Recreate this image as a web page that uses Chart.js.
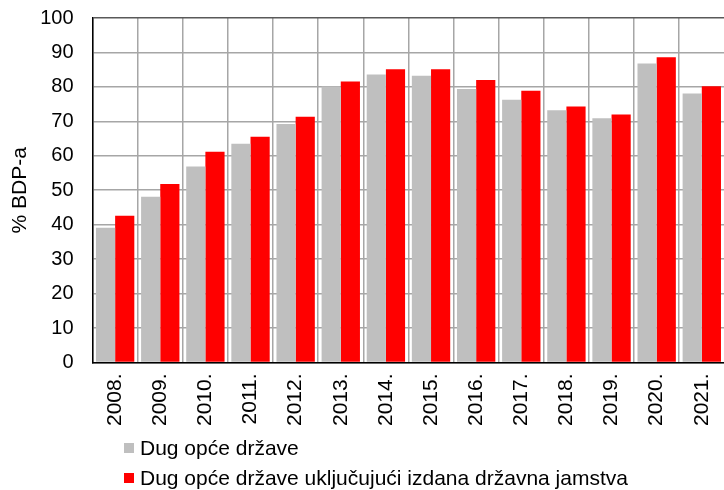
<!DOCTYPE html>
<html>
<head>
<meta charset="utf-8">
<script src="https://cdn.jsdelivr.net/npm/chart.js@4.4.0/dist/chart.umd.min.js"></script>
<style>
  html, body { margin: 0; padding: 0; background: #fff; overflow: hidden; }
  body { width: 724px; height: 490px; position: relative; font-family: "Liberation Sans", Arial, sans-serif; }
  #wrap { position: absolute; left: 0; top: -13px; width: 738px; height: 450px; }
  #legend { position: absolute; left: 124px; top: 433px; font-size: 21px; color: #000; }
  .item { display: flex; align-items: center; height: 30px; }
  .box { width: 10px; height: 10px; margin-right: 6px; }
</style>
</head>
<body>
<div id="wrap"><canvas id="myChart"></canvas></div>
<div id="legend"></div>
<script>
const years = ['2008.', '2009.', '2010.', '2011.', '2012.', '2013.', '2014.',
               '2015.', '2016.', '2017.', '2018.', '2019.', '2020.', '2021.'];
const debt = [39.1, 48.1, 56.9, 63.5, 69.2, 80.1, 83.6, 83.2, 79.4, 76.3, 73.2, 70.9, 86.8, 78.1];
const debtWithGuarantees = [42.6, 51.8, 61.2, 65.5, 71.3, 81.6, 85.1, 85.1, 82.0, 78.9, 74.3, 72.0, 88.6, 80.2];
const seriesNames = ['Dug opće države', 'Dug opće države uključujući izdana državna jamstva'];
const seriesColors = ['#bfbfbf', '#ff0000'];
const yTicks = [0, 10, 20, 30, 40, 50, 60, 70, 80, 90, 100];

const fam = '"Liberation Sans", Arial, sans-serif';

const ctx = document.getElementById('myChart').getContext('2d');
const chart = new Chart(ctx, {
    type: 'bar',
    data: {
        labels: years,
        datasets: [
            { label: seriesNames[0], data: debt, backgroundColor: seriesColors[0] },
            { label: seriesNames[1], data: debtWithGuarantees, backgroundColor: seriesColors[1] }
        ]
    },
    options: {
        responsive: true,
        maintainAspectRatio: false,
        animation: false,
        layout: { padding: { top: 0, left: 5, right: 0, bottom: 0 } },
        datasets: { bar: { categoryPercentage: 0.85, barPercentage: 1.0, borderWidth: 0 } },
        plugins: {
            legend: { display: false },
            tooltip: { enabled: false }
        },
        scales: {
            x: {
                grid: { color: '#a6a6a6', lineWidth: 1.5, drawTicks: false },
                border: { color: '#000', width: 1.5 },
                ticks: {
                    color: '#000', font: { family: fam, size: 21 },
                    minRotation: 90, maxRotation: 90, padding: 11
                }
            },
            y: {
                min: 0, max: 100,
                afterBuildTicks: axis => { axis.ticks = yTicks.map(v => ({ value: v })); },
                grid: {
                    color: c => c.tick && c.tick.value === 100 ? '#595959' : '#a6a6a6',
                    lineWidth: 1.5, drawTicks: false
                },
                border: { color: '#000', width: 1.5 },
                ticks: { color: '#000', font: { family: fam, size: 20 }, padding: 19 },
                // negative bottom padding cancels the doubled tick padding chart.js reserves
                title: {
                    display: true, text: '% BDP-a', color: '#000',
                    font: { family: fam, size: 21 }, padding: { top: 3, bottom: -12 }
                }
            }
        }
    }
});

// legend below the chart, two rows
const legend = document.getElementById('legend');
seriesNames.forEach((name, i) => {
    const item = document.createElement('div');
    item.className = 'item';
    const box = document.createElement('span');
    box.className = 'box';
    box.style.background = seriesColors[i];
    const txt = document.createElement('span');
    txt.textContent = name;
    item.appendChild(box);
    item.appendChild(txt);
    legend.appendChild(item);
});
</script>
</body>
</html>
